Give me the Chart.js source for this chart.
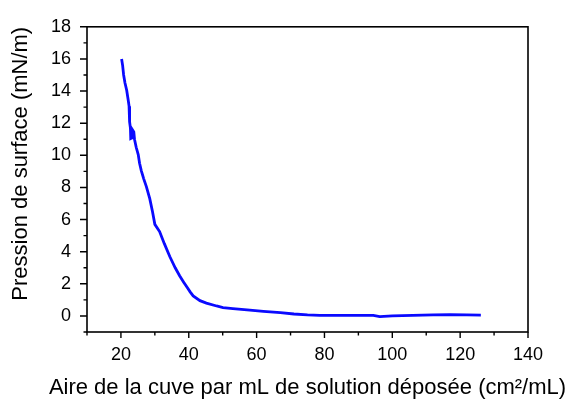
<!DOCTYPE html>
<html>
<head>
<meta charset="utf-8">
<script src="https://cdn.jsdelivr.net/npm/chart.js@4"></script>
<style>
  html, body { margin: 0; padding: 0; background: #fff; }
  #wrap { width: 577px; height: 403px; }
</style>
</head>
<body>
<div id="wrap"><canvas id="isotherm" width="577" height="403"></canvas></div>
<script>
const area = [
  20.2, 20.5, 20.8, 21.2, 21.7, 22.1, 22.4, 22.5, 22.6, 22.8,
  22.9, 23.4, 23.5, 23.8, 24.0, 24.5, 25.1, 25.5, 26.0, 26.7,
  27.5, 28.5, 29.3, 30.0, 31.4, 32.8, 34.4, 36.0, 37.3, 38.5,
  39.6, 40.4, 41.3, 43.3, 45.2, 48.2, 50.1, 53.0, 58.0, 62.0,
  67.0, 71.0, 75.0, 78.6, 86.5, 94.4, 96.3, 100.0, 106.0, 112.0,
  117.0, 122.0, 126.1
];
const pressure = [
  16.0, 15.6, 15.0, 14.5, 14.05, 13.5, 13.06, 12.6, 12.1, 11.7,
  11.05, 11.1, 11.55, 11.45, 11.0, 10.5, 10.05, 9.5, 9.05, 8.55,
  8.05, 7.3, 6.5, 5.7, 5.25, 4.5, 3.7, 3.0, 2.5, 2.1,
  1.75, 1.5, 1.25, 0.95, 0.8, 0.62, 0.52, 0.46, 0.36, 0.29,
  0.2, 0.12, 0.06, 0.03, 0.04, 0.04, -0.04, 0.0, 0.04, 0.06,
  0.08, 0.06, 0.05
];

const X_MIN = 10, X_MAX = 140, X_STEP = 10, X_LABEL_EVERY = 20;
const Y_MIN = -1, Y_MAX = 18, Y_STEP = 1, Y_LABEL_EVERY = 2;

const X_TITLE = 'Aire de la cuve par mL de solution déposée (cm²/mL)';
const Y_TITLE = 'Pression de surface (mN/m)';

const FONT = 'Liberation Sans, Arial, sans-serif';

// ---------- Frame + outward ticks (Origin style) ----------
// The x title is wider than the axis in the original, so it is drawn here
// instead of via scale.title (which squeezes text to the axis width).
const framePlugin = {
  id: 'frame',
  afterDraw(chart) {
    const { ctx, chartArea: a, scales: { x, y } } = chart;
    ctx.save();
    ctx.strokeStyle = '#000';
    ctx.lineWidth = 1.6;
    ctx.strokeRect(a.left, a.top, a.right - a.left, a.bottom - a.top);
    ctx.lineWidth = 1.4;
    ctx.beginPath();
    x.ticks.forEach(t => {
      const px = x.getPixelForValue(t.value);
      const len = t.value % X_LABEL_EVERY === 0 ? 6 : 3.5;
      ctx.moveTo(px, a.bottom);
      ctx.lineTo(px, a.bottom + len);
    });
    y.ticks.forEach(t => {
      const py = y.getPixelForValue(t.value);
      const len = t.value % Y_LABEL_EVERY === 0 ? 7 : 3.5;
      ctx.moveTo(a.left, py);
      ctx.lineTo(a.left - len, py);
    });
    ctx.stroke();

    ctx.fillStyle = '#000';
    ctx.font = `22px ${FONT}`;
    ctx.textAlign = 'center';
    ctx.textBaseline = 'alphabetic';
    ctx.fillText(X_TITLE, (a.left + a.right) / 2, x.bottom - 9);
    ctx.restore();
  }
};

const chart = new Chart(document.getElementById('isotherm'), {
  type: 'line',
  data: {
    datasets: [{
      data: area.map((v, i) => ({ x: v, y: pressure[i] })),
      borderColor: '#0a0aff',
      borderWidth: 2.8,
      pointRadius: 0,
      tension: 0,
      fill: false
    }]
  },
  options: {
    responsive: false,
    animation: false,
    layout: { padding: { top: 14, right: 49, left: 0, bottom: 0 } },
    plugins: { legend: { display: false }, tooltip: { enabled: false } },
    scales: {
      x: {
        type: 'linear',
        min: X_MIN, max: X_MAX,
        grid: { display: false, drawTicks: false },
        border: { display: false },
        ticks: {
          stepSize: X_STEP,
          autoSkip: false,
          maxRotation: 0,
          padding: 12,
          color: '#000',
          font: { family: FONT, size: 18 },
          callback: v => (v % X_LABEL_EVERY === 0 ? v : '')
        },
        afterFit: s => { s.height = 71; }
      },
      y: {
        min: Y_MIN, max: Y_MAX,
        grid: { display: false, drawTicks: false },
        border: { display: false },
        ticks: {
          stepSize: Y_STEP,
          autoSkip: false,
          padding: 16,
          color: '#000',
          font: { family: FONT, size: 18 },
          callback: v => (v >= 0 && v % Y_LABEL_EVERY === 0 ? v : '')
        },
        title: {
          display: true,
          text: Y_TITLE,
          align: 'end',
          color: '#000',
          font: { family: FONT, size: 22 },
          padding: { top: 8, bottom: 0 }
        },
        afterFit: s => { s.width = 87; }
      }
    }
  },
  plugins: [framePlugin]
});
</script>
</body>
</html>
